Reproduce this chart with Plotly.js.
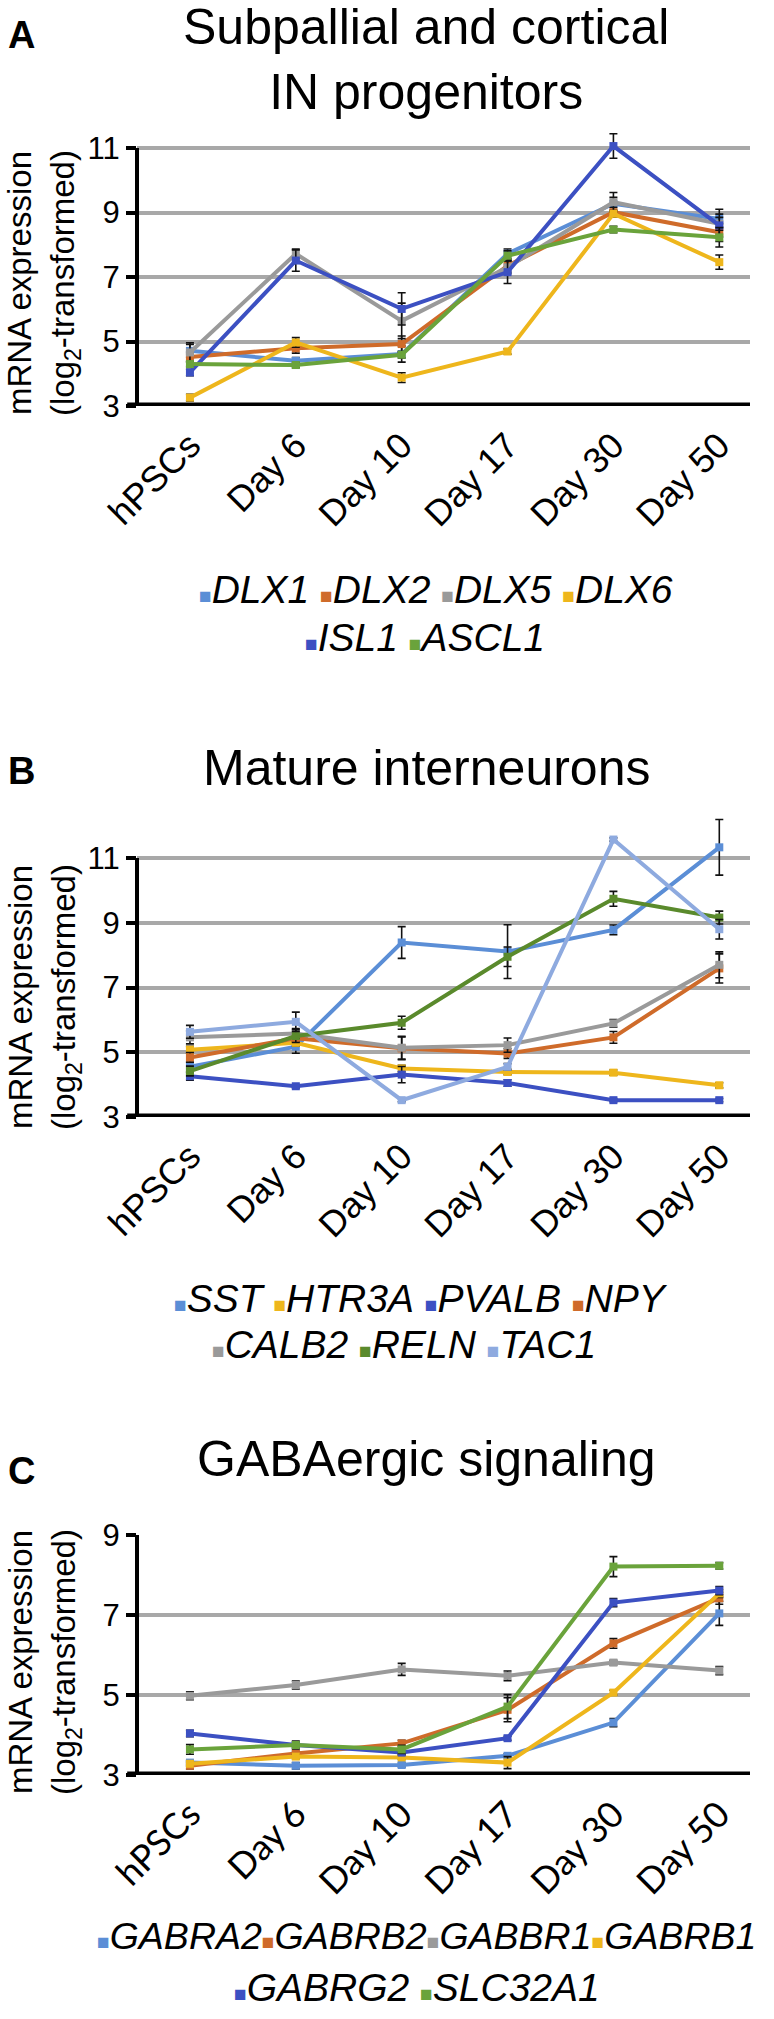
<!DOCTYPE html>
<html>
<head>
<meta charset="utf-8">
<script src="https://cdn.plot.ly/plotly-3.0.1.min.js"></script>
<style>html,body{margin:0;padding:0;background:#fff;}#chart{width:774px;height:2019px;}</style>
</head>
<body>
<div id="chart"></div>
<script>
// ---------- data ----------
const categories = ['hPSCs', 'Day 6', 'Day 10', 'Day 17', 'Day 30', 'Day 50'];

// Panel A: Subpallial and cortical IN progenitors
const namesA = ['DLX1', 'DLX2', 'DLX5', 'DLX6', 'ISL1', 'ASCL1'];
const DLX1 = [4.71, 4.40, 4.61, 7.72, 9.27, 8.80];
const DLX2 = [4.52, 4.79, 4.92, 7.35, 9.01, 8.39];
const DLX5 = [4.66, 7.72, 5.64, 7.30, 9.32, 8.65];
const DLX6 = [3.26, 4.97, 3.88, 4.69, 8.96, 7.46];
const ISL1 = [4.04, 7.51, 6.01, 7.15, 11.06, 8.60];
const ASCL1 = [4.30, 4.27, 4.59, 7.66, 8.47, 8.23];
const DLX1_err = [0.20, 0.10, 0.25, 0.15, 0.20, 0.15];
const DLX2_err = [0.15, 0.15, 0.25, 0.20, 0.15, 0.15];
const DLX5_err = [0.30, 0.15, 0.55, 0.20, 0.30, 0.20];
const DLX6_err = [0.10, 0.15, 0.15, 0.08, 0.10, 0.22];
const ISL1_err = [0.10, 0.33, 0.50, 0.35, 0.38, 0.50];
const ASCL1_err = [0.08, 0.08, 0.10, 0.15, 0.10, 0.30];

// Panel B: Mature interneurons
const namesB = ['SST', 'HTR3A', 'PVALB', 'NPY', 'CALB2', 'RELN', 'TAC1'];
const SST = [4.55, 5.17, 8.39, 8.11, 8.78, 11.33];
const HTR3A = [5.08, 5.29, 4.50, 4.39, 4.37, 3.98];
const PVALB = [4.26, 3.95, 4.31, 4.05, 3.52, 3.52];
const NPY = [4.84, 5.43, 5.12, 4.96, 5.46, 7.59];
const CALB2 = [5.46, 5.58, 5.14, 5.22, 5.89, 7.70];
const RELN = [4.42, 5.50, 5.91, 7.95, 9.74, 9.16];
const TAC1 = [5.63, 5.94, 3.52, 4.55, 11.57, 8.80];
const SST_err = [0.15, 0.20, 0.49, 0.83, 0.15, 0.86];
const HTR3A_err = [0.10, 0.10, 0.10, 0.08, 0.08, 0.08];
const PVALB_err = [0.12, 0.05, 0.25, 0.10, 0.05, 0.05];
const NPY_err = [0.15, 0.10, 0.35, 0.15, 0.18, 0.45];
const CALB2_err = [0.20, 0.15, 0.35, 0.22, 0.12, 0.40];
const RELN_err = [0.15, 0.20, 0.20, 0.30, 0.23, 0.20];
const TAC1_err = [0.20, 0.30, 0.05, 0.10, 0.05, 0.30];

// Panel C: GABAergic signaling
const namesC = ['GABRA2', 'GABRB2', 'GABBR1', 'GABRB1', 'GABRG2', 'SLC32A1'];
const GABRA2 = [3.31, 3.23, 3.25, 3.48, 4.31, 7.04];
const GABRB2 = [3.23, 3.54, 3.79, 4.63, 6.29, 7.42];
const GABBR1 = [4.98, 5.25, 5.64, 5.48, 5.81, 5.61];
const GABRB1 = [3.28, 3.46, 3.44, 3.31, 5.06, 7.54];
const GABRG2 = [4.04, 3.75, 3.56, 3.92, 7.31, 7.61];
const SLC32A1 = [3.64, 3.75, 3.64, 4.71, 8.21, 8.23];
const GABRA2_err = [0.05, 0.08, 0.05, 0.05, 0.10, 0.30];
const GABRB2_err = [0.08, 0.05, 0.08, 0.30, 0.12, 0.15];
const GABBR1_err = [0.10, 0.10, 0.15, 0.12, 0.06, 0.10];
const GABRB1_err = [0.06, 0.05, 0.05, 0.15, 0.06, 0.10];
const GABRG2_err = [0.08, 0.06, 0.05, 0.05, 0.10, 0.10];
const SLC32A1_err = [0.12, 0.10, 0.10, 0.30, 0.25, 0.08];

const yTicksAB = [3, 5, 7, 9, 11];
const yTicksC = [3, 5, 7, 9];

// ---------- styles ----------
const colorsA = ['#5b8ed6', '#cf6b2a', '#9a9a9a', '#eeb61c', '#3c50c2', '#6aa33b'];
const colorsB = ['#5b8ed6', '#eeb61c', '#3c50c2', '#cf6b2a', '#9a9a9a', '#5a8a2c', '#8eaadf'];
const colorsC = ['#5b8ed6', '#cf6b2a', '#9a9a9a', '#eeb61c', '#3c50c2', '#6aa33b'];

const W = 774, H = 2019;
const FONT = 'Liberation Sans, Arial, Helvetica, sans-serif';
const py = y => 1 - y / H;

const panels = [
  {key: '', title: 'Subpallial and cortical<br>IN progenitors', letter: 'A',
   names: namesA, colors: colorsA,
   values: [DLX1, DLX2, DLX5, DLX6, ISL1, ASCL1],
   errors: [DLX1_err, DLX2_err, DLX5_err, DLX6_err, ISL1_err, ASCL1_err],
   yTicks: yTicksAB, yMin: 3, yMax: 11.6, yBottomPx: 406, pxPerUnit: 32.25,
   titleY: 59, letterY: 35, yTitleY: 283,
   legendY: [589, 637], legendX: [436, 425], legendSep: [' ', ' '], legendSize: [39, 39],
   tickFont: FONT, tickSize: 36},
  {key: '2', title: 'Mature interneurons', letter: 'B',
   names: namesB, colors: colorsB,
   values: [SST, HTR3A, PVALB, NPY, CALB2, RELN, TAC1],
   errors: [SST_err, HTR3A_err, PVALB_err, NPY_err, CALB2_err, RELN_err, TAC1_err],
   yTicks: yTicksAB, yMin: 3, yMax: 12.4, yBottomPx: 1117, pxPerUnit: 32.375,
   titleY: 768, letterY: 771, yTitleY: 997,
   legendY: [1298, 1344], legendX: [421, 404], legendSep: [' ', ' '], legendSize: [39, 39],
   tickFont: FONT, tickSize: 36},
  {key: '3', title: 'GABAergic signaling', letter: 'C',
   names: namesC, colors: colorsC,
   values: [GABRA2, GABRB2, GABBR1, GABRB1, GABRG2, SLC32A1],
   errors: [GABRA2_err, GABRB2_err, GABBR1_err, GABRB1_err, GABRG2_err, SLC32A1_err],
   yTicks: yTicksC, yMin: 3, yMax: 9, yBottomPx: 1775, pxPerUnit: 40,
   titleY: 1459, letterY: 1471, yTitleY: 1662,
   legendY: [1936, 1987], legendX: [426, 417], legendSep: ['', ' '], legendSize: [37.5, 39],
   tickFont: 'Lato, Carlito, sans-serif', tickSize: 36}
];

const traces = [];
const layout = {
  width: W, height: H,
  margin: {l: 0, r: 0, t: 0, b: 0},
  paper_bgcolor: '#fff', plot_bgcolor: 'rgba(0,0,0,0)',
  showlegend: false,
  font: {family: FONT, color: '#000'},
  annotations: [], shapes: []
};

const xDomain = [137 / W, 750 / W];

panels.forEach(p => {
  const xa = 'xaxis' + p.key, ya = 'yaxis' + p.key;
  const xr = 'x' + p.key, yr = 'y' + p.key;
  const topPx = p.yBottomPx - (p.yMax - p.yMin) * p.pxPerUnit;
  layout[xa] = {
    domain: xDomain, anchor: yr, type: 'category',
    range: [-0.5, 5.29], showgrid: false, showline: false, zeroline: false,
    ticks: '', tickangle: -45, ticklabelstandoff: 10,
    tickfont: {family: p.tickFont, size: p.tickSize, color: '#000'},
    fixedrange: true
  };
  layout[ya] = {
    domain: [py(p.yBottomPx), py(topPx)], anchor: xr,
    range: [p.yMin, p.yMax], tickvals: p.yTicks, ticktext: p.yTicks.map(String),
    showgrid: true, gridcolor: '#a8a8a8', gridwidth: 4,
    ticks: 'outside', ticklen: 10, tickwidth: 4, tickcolor: '#000',
    showline: false, zeroline: false,
    tickfont: {family: FONT, size: 31, color: '#000'}, fixedrange: true
  };
  // axis lines
  layout.shapes.push({type: 'line', xref: xr + ' domain', yref: yr, x0: 0, x1: 0,
    y0: p.yMin, y1: p.yTicks[p.yTicks.length - 1], line: {color: '#000', width: 4}});
  layout.shapes.push({type: 'line', xref: xr + ' domain', yref: yr, x0: -0.016, x1: 1,
    y0: p.yMin, y1: p.yMin, line: {color: '#000', width: 7}});

  p.names.forEach((n, i) => {
    traces.push({
      type: 'scatter', mode: 'lines+markers', name: n,
      x: categories, y: p.values[i], xaxis: xr, yaxis: yr,
      line: {color: p.colors[i], width: 4},
      marker: {symbol: 'square', size: 8, color: p.colors[i]},
      error_y: {type: 'data', array: p.errors[i], visible: true, color: '#111', thickness: 1.6, width: 4},
      cliponaxis: false
    });
  });

  // title
  layout.annotations.push({xref: 'paper', yref: 'paper', x: 426 / W, y: py(p.titleY),
    xanchor: 'center', yanchor: 'middle', showarrow: false, text: p.title,
    font: {family: FONT, size: 50, color: '#000'}});
  // panel letter
  layout.annotations.push({xref: 'paper', yref: 'paper', x: 21 / W, y: py(p.letterY),
    xanchor: 'center', yanchor: 'middle', showarrow: false, text: p.letter,
    font: {family: FONT, size: 38, color: '#000', weight: 'bold'}});
  // y title
  layout.annotations.push({xref: 'paper', yref: 'paper', x: 44 / W, y: py(p.yTitleY),
    xanchor: 'center', yanchor: 'middle', showarrow: false, textangle: -90,
    text: 'mRNA expression<br>(log<sub>2</sub>-transformed)',
    font: {family: FONT, size: 33, color: '#000'}});
  // legend rows (built from names/colors)
  const rows = [p.names.slice(0, 4), p.names.slice(4)];
  rows.forEach((row, r) => {
    const txt = row.map((n, j) => {
      const c = p.colors[p.names.indexOf(n)];
      return (j > 0 ? p.legendSep[r] : '') + '<span style="color:' + c + ';font-size:21px">■</span><i>' + n + '</i>';
    }).join('');
    layout.annotations.push({xref: 'paper', yref: 'paper', x: p.legendX[r] / W, y: py(p.legendY[r]),
      xanchor: 'center', yanchor: 'middle', showarrow: false, text: txt,
      font: {family: FONT, size: p.legendSize[r], color: '#000'}});
  });
});

Plotly.newPlot('chart', traces, layout, {staticPlot: true, displayModeBar: false});
</script>
</body>
</html>
